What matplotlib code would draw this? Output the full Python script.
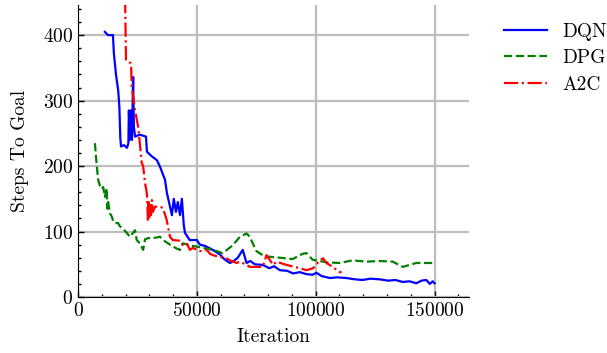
import numpy as np
import matplotlib
matplotlib.use("Agg")
import matplotlib.pyplot as plt
from matplotlib.ticker import MultipleLocator

# values (x in iterations, y in steps)
dqn_x = [11300, 12600, 14700, 15100, 16000, 16900, 17400, 17800, 18100, 19300, 20600, 21200,
         21400, 21800, 22300, 22700, 23200, 23500, 24000, 26000, 28600, 29000, 31000, 33200,
         34500, 36600, 37400, 38700, 39500, 40300, 41200, 42000, 42900, 43700, 44500, 45000,
         47000, 50000, 51300, 53500, 56700, 59700, 61500, 63900, 65500, 67200, 69300, 70900,
         72500, 74400, 77700, 80500, 82500, 84900, 88000, 90500, 93300, 96000, 98700, 100300,
         102500, 105900, 109000, 112900, 116500, 119700, 123000, 126900, 130500, 133500, 136600,
         139500, 142300, 144500, 146500, 148000, 149200, 150000]
dqn_y = [405, 400, 400, 372, 339, 316, 291, 243, 230, 232, 228, 235,
         285, 240, 285, 240, 336, 260, 245, 248, 245, 222, 215, 209,
         199, 179, 159, 138, 125, 150, 130, 145, 125, 150, 110, 98,
         87, 87, 80, 78, 72, 65, 58, 52, 55, 60, 72, 52,
         55, 50, 49, 44, 47, 41, 40, 36, 38, 35, 34, 37,
         32, 29, 30, 29, 27, 26, 28, 27, 25, 26, 23,
         24, 21, 25, 26, 20, 24, 21]

dpg_x = [7100, 7900, 8500, 9200, 10000, 10600, 11300, 12100, 12300, 12700, 13400, 14200, 14800,
         15500, 16900, 17600, 19000, 20500, 21800, 23200, 24000, 24700, 26000, 27400, 28200,
         29500, 31600, 34500, 35800, 38700, 41500, 42900, 44100, 47100, 49900, 52500, 56700,
         60900, 65100, 68100, 70900, 72300, 73500, 75100, 77700, 79300, 84900, 90300, 94500,
         96100, 98700, 104500, 110100, 115500, 121300, 126900, 132400, 136600, 142300, 149200,
         150000]
dpg_y = [235, 200, 179, 170, 165, 168, 153, 166, 135, 145, 128, 123, 116,
         113, 113, 108, 104, 98, 92, 98, 102, 87, 82, 72, 88,
         90, 90, 92, 87, 80, 74, 72, 82, 79, 77, 75, 72,
         67, 79, 92, 97, 92, 82, 70, 64, 62, 60, 58, 66,
         67, 57, 53, 52, 56, 54, 55, 54, 46, 52, 52,
         52]

a2c_x = [19700, 20200, 21100, 22300, 22600, 24000, 25300, 26000, 26800, 27400, 28200, 28900,
         29100, 29400, 29700, 30000, 30300, 30700, 31100, 31500, 32400, 34500, 35700, 37300,
         38700, 39900, 42900, 44100, 45700, 47100, 48300, 51300, 54100, 55500, 56700, 59700,
         62500, 63900, 66700, 68100, 70900, 72300, 77700, 79300, 82100, 83500, 87700, 93300,
         96100, 98900, 101700, 103100, 104500, 107100, 110100, 110900]
a2c_y = [480, 362, 359, 357, 321, 285, 260, 235, 205, 200, 174, 160,
         150, 118, 145, 120, 143, 125, 148, 130, 138, 138, 136, 118,
         92, 87, 86, 80, 82, 72, 75, 70, 72, 66, 64, 61,
         59, 56, 52, 54, 49, 46, 46, 64, 49, 54, 49, 44,
         41, 44, 56, 59, 52, 46, 38, 38]

plt.rcParams["font.family"] = "serif"
plt.rcParams["font.serif"] = ["cmr10", "DejaVu Serif"]
plt.rcParams["axes.formatter.use_mathtext"] = True
plt.rcParams["font.size"] = 14

fig = plt.figure(figsize=(6.07, 3.53), dpi=100)
ax = fig.add_axes([0.1285, 0.1586, 0.6442, 0.8272])

ax.plot(dqn_x, dqn_y, color="#0000ff", lw=1.6, label="DQN")
ax.plot(dpg_x, dpg_y, color="#008000", lw=1.6, ls="--", label="DPG")
ax.plot(a2c_x, a2c_y, color="#ff0000", lw=1.6, ls="-.", label="A2C")

ax.set_xlim(0, 164500)
ax.set_ylim(0, 446)
ax.xaxis.set_major_locator(MultipleLocator(50000))
ax.xaxis.set_minor_locator(MultipleLocator(10000))
ax.yaxis.set_major_locator(MultipleLocator(100))
ax.yaxis.set_minor_locator(MultipleLocator(20))
ax.tick_params(which="both", direction="in")
ax.tick_params(which="major", length=4, width=1)
ax.tick_params(which="minor", length=2.5, width=1)
ax.spines["top"].set_visible(False)
ax.spines["right"].set_visible(False)
ax.grid(True, color="#bdbdbd", lw=1.6)
ax.set_axisbelow(True)

ax.set_xlabel("Iteration", labelpad=6)
ax.set_ylabel("Steps To Goal", labelpad=10)

ax.legend(loc="upper left", bbox_to_anchor=(1.045, 1.0), frameon=False,
          handlelength=2.2, labelspacing=0.45)

fig.savefig("out.png", dpi=100)
